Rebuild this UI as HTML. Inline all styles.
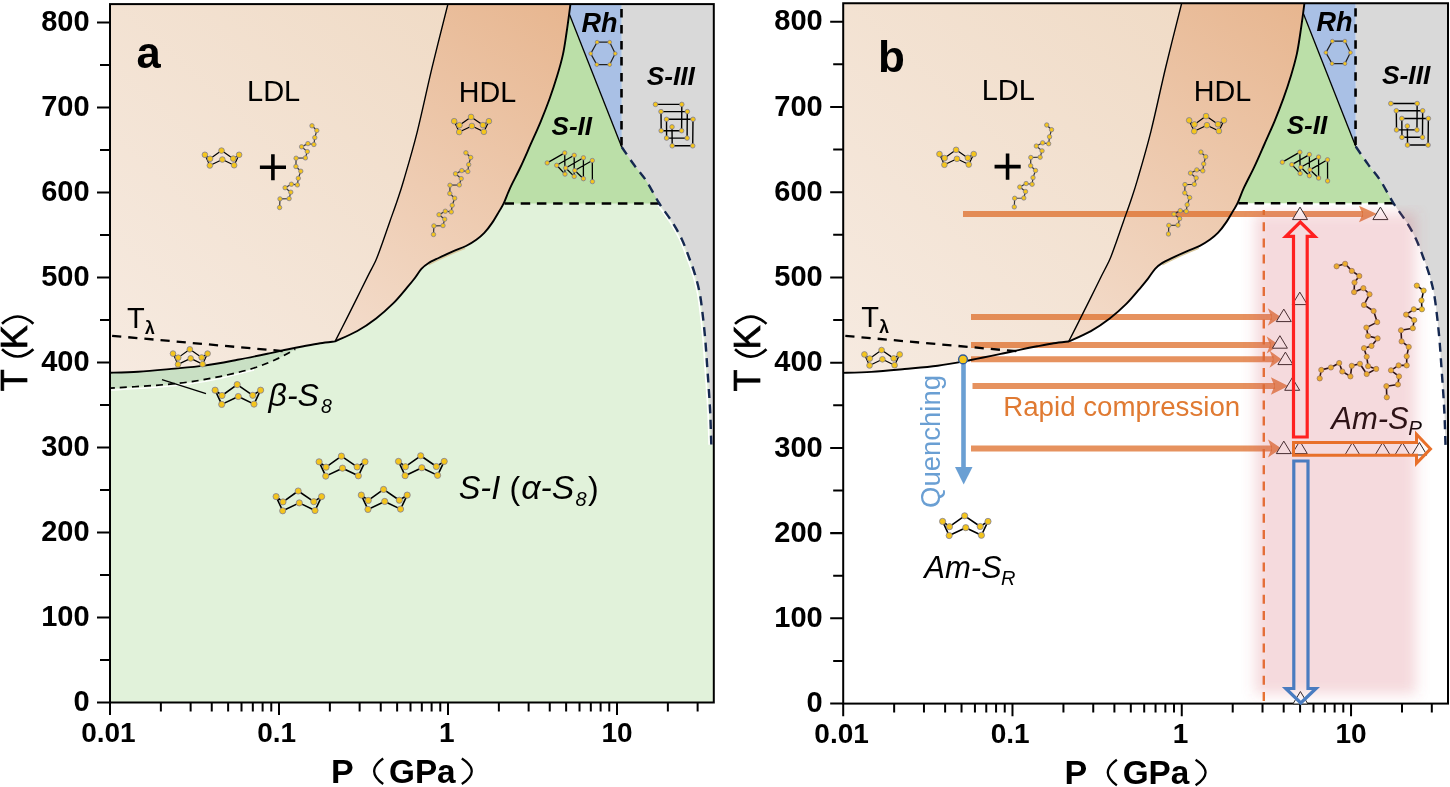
<!DOCTYPE html><html><head><meta charset="utf-8"><style>html,body{margin:0;padding:0;background:#fff;}svg{display:block;will-change:transform;}</style></head><body><svg width="1450" height="787" viewBox="0 0 1450 787" font-family='"Liberation Sans", sans-serif'>
<defs>
<linearGradient id="gLDLa" gradientUnits="userSpaceOnUse" x1="110" y1="370" x2="450" y2="0">
<stop offset="0" stop-color="#f6eae0"/><stop offset="1" stop-color="#f0dbc6"/></linearGradient>
<linearGradient id="gHDLa" gradientUnits="userSpaceOnUse" x1="340" y1="340" x2="580" y2="0">
<stop offset="0" stop-color="#f3dccb"/><stop offset="1" stop-color="#e7b58e"/></linearGradient>
<linearGradient id="gLDLb" gradientUnits="userSpaceOnUse" x1="110" y1="370" x2="450" y2="0">
<stop offset="0" stop-color="#f6eae0"/><stop offset="1" stop-color="#f0dbc6"/></linearGradient>
<linearGradient id="gHDLb" gradientUnits="userSpaceOnUse" x1="340" y1="340" x2="580" y2="0">
<stop offset="0" stop-color="#f3dccb"/><stop offset="1" stop-color="#e7b58e"/></linearGradient>
<clipPath id="plotclip"><rect x="110.0" y="4.1" width="603.8" height="698.4"/></clipPath>
<filter id="blur8" x="-20%" y="-20%" width="140%" height="140%"><feGaussianBlur stdDeviation="7"/></filter>
</defs>
<defs><clipPath id="pinkclip"><rect x="1200" y="205" width="248" height="497"/></clipPath><filter id="blurP" x="-30%" y="-30%" width="160%" height="160%"><feGaussianBlur stdDeviation="6.5"/></filter></defs>
<g id="pa"><g clip-path="url(#plotclip)"><rect x="110.0" y="4.1" width="603.8" height="698.4" fill="#e1f2da"/>
<path d="M621.5,4.1 L713.8,4.1 L713.8,444.7 L711.3,444.7 C711.13,439.68 710.7,423.63 710.3,414.6 C709.9,405.57 709.42,398.53 708.9,390.5 C708.38,382.47 707.77,374.43 707.2,366.4 C706.63,358.37 706.18,350.33 705.5,342.3 C704.82,334.27 704.03,326.23 703.1,318.2 C702.17,310.17 701.23,301.33 699.9,294.1 C698.57,286.87 696.87,280.8 695.1,274.8 C693.33,268.8 691.53,264.07 689.3,258.1 C687.07,252.13 684.57,245.03 681.7,239 C678.83,232.97 675.83,227.82 672.1,221.9 C668.37,215.98 663.58,210.32 659.3,203.5 C655.02,196.68 650.62,187.45 646.4,181 C642.18,174.55 638.12,170.47 634,164.8 C629.88,159.13 623.75,149.97 621.7,147 Z" fill="#d9d9d9"/>
<path d="M570.3,4.1 L621.5,4.1 L621.7,147 L569.5,14.5 Z" fill="#a9c0e5"/>
<path d="M569.5,14.5 L621.7,147 C623.75,149.97 629.88,159.13 634,164.8 C638.12,170.47 642.18,174.55 646.4,181 C650.62,187.45 657.15,199.75 659.3,203.5 L504.5,203.5 L503.8,203.2 C504.87,200.63 507.45,193.75 510.2,187.8 C512.95,181.85 516.92,174.68 520.3,167.5 C523.68,160.32 527.12,152.32 530.5,144.7 C533.88,137.08 537.43,129.42 540.6,121.8 C543.77,114.18 546.75,106.62 549.5,99 C552.25,91.38 554.87,83.5 557.1,76.1 C559.33,68.7 561.33,61.78 562.9,54.6 C564.47,47.42 565.48,39.57 566.5,33 C567.52,26.43 568.32,20.2 569,15.2 C569.68,10.2 570.33,5.03 570.6,3 Z" fill="#bbdfa8"/>
<path d="M108,372.8 C113.02,372.62 127.57,372.35 138.1,371.7 C148.63,371.05 160.17,369.92 171.2,368.9 C182.23,367.88 193.27,367.12 204.3,365.6 C215.33,364.08 226.37,361.88 237.4,359.8 C248.43,357.72 262.22,354.82 270.5,353.1 C278.78,351.38 284.33,350.1 287.1,349.5 L295.3,349.2 C292.55,350.68 285.68,354.97 278.8,358.1 C271.92,361.23 263.65,364.97 254,368 C244.35,371.03 231.93,373.95 220.9,376.3 C209.87,378.65 198.83,380.58 187.8,382.1 C176.77,383.62 168,384.37 154.7,385.4 C141.4,386.43 115.78,387.82 108,388.3 Z" fill="#c9e0c4"/>
<path d="M110,4.1 L447.8,4.1 C445.52,13.73 437.28,45.85 432.1,67.4 C426.92,88.95 421.82,113.53 417.1,132.3 C412.38,151.07 407.13,168.55 403.8,180 C400.47,191.45 399.45,194.02 397.1,201 C394.75,207.98 392.15,214.92 389.7,221.9 C387.25,228.88 384.67,236.6 382.4,242.9 C380.13,249.2 378.55,254.12 376.1,259.7 C373.65,265.28 370.83,270.12 367.7,276.4 C364.57,282.68 360.78,290.4 357.3,297.4 C353.82,304.4 350.5,311.07 346.8,318.4 C343.1,325.73 337.05,337.57 335.1,341.4 C332.62,341.7 325.45,342.4 320.2,343.2 C314.95,344 309.12,345.15 303.6,346.2 C298.08,347.25 292.62,348.35 287.1,349.5 C281.58,350.65 278.78,351.38 270.5,353.1 C262.22,354.82 248.43,357.72 237.4,359.8 C226.37,361.88 215.33,364.08 204.3,365.6 C193.27,367.12 182.23,367.88 171.2,368.9 C160.17,369.92 148.63,371.05 138.1,371.7 C127.57,372.35 113.02,372.62 108,372.8 Z" fill="url(#gLDLa)"/>
<path d="M447.8,4.1 L570.3,4.1 C570.33,5.03 569.68,10.2 569,15.2 C568.32,20.2 567.52,26.43 566.5,33 C565.48,39.57 564.47,47.42 562.9,54.6 C561.33,61.78 559.33,68.7 557.1,76.1 C554.87,83.5 552.25,91.38 549.5,99 C546.75,106.62 543.77,114.18 540.6,121.8 C537.43,129.42 533.88,137.08 530.5,144.7 C527.12,152.32 523.68,160.32 520.3,167.5 C516.92,174.68 512.95,181.85 510.2,187.8 C507.45,193.75 505.63,199.3 503.8,203.2 C501.97,207.1 501.12,207.97 499.2,211.2 C497.28,214.43 494.78,218.98 492.3,222.6 C489.82,226.22 486.97,230.05 484.3,232.9 C481.63,235.75 479.35,237.52 476.3,239.7 C473.25,241.88 469.8,244.08 466,246 C462.2,247.92 458.07,249.2 453.5,251.2 C448.93,253.2 442.8,256 438.6,258 C434.4,260 431.17,261.38 428.3,263.2 C425.43,265.02 423.7,266.35 421.4,268.9 C419.1,271.45 416.8,275.5 414.5,278.5 C412.2,281.5 411.2,282.7 407.6,286.9 C404,291.1 398.15,298.45 392.9,303.7 C387.65,308.95 382.03,313.85 376.1,318.4 C370.17,322.95 364.13,327.17 357.3,331 C350.47,334.83 338.8,339.67 335.1,341.4 C337.05,337.57 343.1,325.73 346.8,318.4 C350.5,311.07 353.82,304.4 357.3,297.4 C360.78,290.4 364.57,282.68 367.7,276.4 C370.83,270.12 373.65,265.28 376.1,259.7 C378.55,254.12 380.13,249.2 382.4,242.9 C384.67,236.6 387.25,228.88 389.7,221.9 C392.15,214.92 394.75,207.98 397.1,201 C399.45,194.02 400.47,191.45 403.8,180 C407.13,168.55 412.38,151.07 417.1,132.3 C421.82,113.53 426.92,88.95 432.1,67.4 C437.28,45.85 445.52,13.73 448.2,3 Z" fill="url(#gHDLa)"/><path d="M659.3,203.5 C661.43,206.57 668.37,215.98 672.1,221.9 C675.83,227.82 678.83,232.97 681.7,239 C684.57,245.03 687.07,252.13 689.3,258.1 C691.53,264.07 693.33,268.8 695.1,274.8 C696.87,280.8 698.57,286.87 699.9,294.1 C701.23,301.33 702.17,310.17 703.1,318.2 C704.03,326.23 704.82,334.27 705.5,342.3 C706.18,350.33 706.63,358.37 707.2,366.4 C707.77,374.43 708.38,382.47 708.9,390.5 C709.42,398.53 709.9,405.57 710.3,414.6 C710.7,423.63 711.13,439.68 711.3,444.7" fill="none" stroke="#fff" stroke-width="1.6" transform="translate(-2.2,0)"/>
<path d="M428.3,263.2 C430.02,262.33 434.4,260 438.6,258 C442.8,256 449.12,253.1 453.5,251.2 C457.88,249.3 463,247.37 464.9,246.6" fill="none" stroke="#d8c79c" stroke-width="1.6" transform="translate(0.3,1.6)"/>
<path d="M108,372.8 C113.02,372.62 127.57,372.35 138.1,371.7 C148.63,371.05 160.17,369.92 171.2,368.9 C182.23,367.88 193.27,367.12 204.3,365.6 C215.33,364.08 226.37,361.88 237.4,359.8 C248.43,357.72 262.22,354.82 270.5,353.1 C278.78,351.38 281.58,350.65 287.1,349.5 C292.62,348.35 298.08,347.25 303.6,346.2 C309.12,345.15 314.95,344 320.2,343.2 C325.45,342.4 332.62,341.7 335.1,341.4 C338.8,339.67 350.47,334.83 357.3,331 C364.13,327.17 370.17,322.95 376.1,318.4 C382.03,313.85 387.65,308.95 392.9,303.7 C398.15,298.45 404,291.1 407.6,286.9 C411.2,282.7 412.2,281.5 414.5,278.5 C416.8,275.5 419.1,271.45 421.4,268.9 C423.7,266.35 425.43,265.02 428.3,263.2 C431.17,261.38 434.4,260 438.6,258 C442.8,256 448.93,253.2 453.5,251.2 C458.07,249.2 462.2,247.92 466,246 C469.8,244.08 473.25,241.88 476.3,239.7 C479.35,237.52 481.63,235.75 484.3,232.9 C486.97,230.05 489.82,226.22 492.3,222.6 C494.78,218.98 497.28,214.43 499.2,211.2 C501.12,207.97 501.97,207.1 503.8,203.2 C505.63,199.3 507.45,193.75 510.2,187.8 C512.95,181.85 516.92,174.68 520.3,167.5 C523.68,160.32 527.12,152.32 530.5,144.7 C533.88,137.08 537.43,129.42 540.6,121.8 C543.77,114.18 546.75,106.62 549.5,99 C552.25,91.38 554.87,83.5 557.1,76.1 C559.33,68.7 561.33,61.78 562.9,54.6 C564.47,47.42 565.48,39.57 566.5,33 C567.52,26.43 568.32,20.2 569,15.2 C569.68,10.2 570.33,5.03 570.6,3" fill="none" stroke="#000" stroke-width="1.9"/>
<path d="M335.1,341.4 C337.05,337.57 343.1,325.73 346.8,318.4 C350.5,311.07 353.82,304.4 357.3,297.4 C360.78,290.4 364.57,282.68 367.7,276.4 C370.83,270.12 373.65,265.28 376.1,259.7 C378.55,254.12 380.13,249.2 382.4,242.9 C384.67,236.6 387.25,228.88 389.7,221.9 C392.15,214.92 394.75,207.98 397.1,201 C399.45,194.02 400.47,191.45 403.8,180 C407.13,168.55 412.38,151.07 417.1,132.3 C421.82,113.53 426.92,88.95 432.1,67.4 C437.28,45.85 445.52,13.73 448.2,3" fill="none" stroke="#000" stroke-width="1.4"/>
<path d="M569.5,14.5 L621.7,147" stroke="#000" stroke-width="1.3"/>
<path d="M621.5,9 L621.5,146" stroke="#000" stroke-width="2.6" stroke-dasharray="8.4 7.6"/>
<path d="M504.5,203.5 L659.8,203.5" stroke="#000" stroke-width="2.4" stroke-dasharray="9.5 6.7"/>
<path d="M621.7,147 C623.75,149.97 629.88,159.13 634,164.8 C638.12,170.47 642.18,174.55 646.4,181 C650.62,187.45 655.02,196.68 659.3,203.5 C663.58,210.32 668.37,215.98 672.1,221.9 C675.83,227.82 678.83,232.97 681.7,239 C684.57,245.03 687.07,252.13 689.3,258.1 C691.53,264.07 693.33,268.8 695.1,274.8 C696.87,280.8 698.57,286.87 699.9,294.1 C701.23,301.33 702.17,310.17 703.1,318.2 C704.03,326.23 704.82,334.27 705.5,342.3 C706.18,350.33 706.63,358.37 707.2,366.4 C707.77,374.43 708.38,382.47 708.9,390.5 C709.42,398.53 709.9,405.57 710.3,414.6 C710.7,423.63 711.13,439.68 711.3,444.7" fill="none" stroke="#152850" stroke-width="2.4" stroke-dasharray="9 6.5"/>
<path d="M112.1,335.8 L284,351.2" stroke="#000" stroke-width="2.3" stroke-dasharray="9.2 7"/>
<path d="M108,388.3 C115.78,387.82 141.4,386.43 154.7,385.4 C168,384.37 176.77,383.62 187.8,382.1 C198.83,380.58 209.87,378.65 220.9,376.3 C231.93,373.95 248.48,369.38 254,368" fill="none" stroke="#fff" stroke-width="1.3" transform="translate(0,2)"/>
<path d="M108,388.3 C115.78,387.82 141.4,386.43 154.7,385.4 C168,384.37 176.77,383.62 187.8,382.1 C198.83,380.58 209.87,378.65 220.9,376.3 C231.93,373.95 244.35,371.03 254,368 C263.65,364.97 271.92,361.23 278.8,358.1 C285.68,354.97 292.55,350.68 295.3,349.2" fill="none" stroke="#000" stroke-width="1.7" stroke-dasharray="7 5"/>
<path d="M162,379.6 L206,393.6" stroke="#000" stroke-width="1.4"/></g><path d="M204.9,154.8L210.09,158.78M210.09,158.78L221.51,150.59M221.51,150.59L233.24,158.63M233.24,158.63L239.1,154.8M239.1,154.8L234.14,165.25M234.14,165.25L222.34,159.54M222.34,159.54L209.86,165.47M209.86,165.47L204.9,154.8" stroke="#000" stroke-width="1.202637362637363" fill="none" stroke-linecap="round"/><circle cx="204.9" cy="154.8" r="2.83" fill="#f4c51c" stroke="#7a7a98" stroke-width="0.75"/><circle cx="210.09" cy="158.78" r="2.83" fill="#f4c51c" stroke="#7a7a98" stroke-width="0.75"/><circle cx="221.51" cy="150.59" r="2.83" fill="#f4c51c" stroke="#7a7a98" stroke-width="0.75"/><circle cx="233.24" cy="158.63" r="2.83" fill="#f4c51c" stroke="#7a7a98" stroke-width="0.75"/><circle cx="239.1" cy="154.8" r="2.83" fill="#f4c51c" stroke="#7a7a98" stroke-width="0.75"/><circle cx="209.86" cy="165.47" r="2.83" fill="#f4c51c" stroke="#7a7a98" stroke-width="0.75"/><circle cx="222.34" cy="159.54" r="2.83" fill="#f4c51c" stroke="#7a7a98" stroke-width="0.75"/><circle cx="234.14" cy="165.25" r="2.83" fill="#f4c51c" stroke="#7a7a98" stroke-width="0.75"/>
<path d="M312,125.8L316.8,130.5M316.8,130.5L314.8,137.6M314.8,137.6L313.9,144.5M313.9,144.5L307.9,143.6M307.9,143.6L301.6,146.8M301.6,146.8L307.3,151.6M307.3,151.6L305.4,157.9M305.4,157.9L296.1,158.2M296.1,158.2L295.9,166.5M295.9,166.5L300.8,171.2M300.8,171.2L298.3,178.3M298.3,178.3L297.4,184.9M297.4,184.9L291.4,184.2M291.4,184.2L285.1,187.7M285.1,187.7L290.8,192.2M290.8,192.2L289.1,198.6M289.1,198.6L280,198.9M280,198.9L279.6,207.5" stroke="#333" stroke-width="1.2" fill="none" stroke-linecap="round"/><circle cx="312" cy="125.8" r="2.2" fill="#f4c51c" stroke="#7a7a98" stroke-width="0.75"/><circle cx="316.8" cy="130.5" r="2.2" fill="#f4c51c" stroke="#7a7a98" stroke-width="0.75"/><circle cx="314.8" cy="137.6" r="2.2" fill="#f4c51c" stroke="#7a7a98" stroke-width="0.75"/><circle cx="313.9" cy="144.5" r="2.2" fill="#f4c51c" stroke="#7a7a98" stroke-width="0.75"/><circle cx="307.9" cy="143.6" r="2.2" fill="#f4c51c" stroke="#7a7a98" stroke-width="0.75"/><circle cx="301.6" cy="146.8" r="2.2" fill="#f4c51c" stroke="#7a7a98" stroke-width="0.75"/><circle cx="307.3" cy="151.6" r="2.2" fill="#f4c51c" stroke="#7a7a98" stroke-width="0.75"/><circle cx="305.4" cy="157.9" r="2.2" fill="#f4c51c" stroke="#7a7a98" stroke-width="0.75"/><circle cx="296.1" cy="158.2" r="2.2" fill="#f4c51c" stroke="#7a7a98" stroke-width="0.75"/><circle cx="295.9" cy="166.5" r="2.2" fill="#f4c51c" stroke="#7a7a98" stroke-width="0.75"/><circle cx="300.8" cy="171.2" r="2.2" fill="#f4c51c" stroke="#7a7a98" stroke-width="0.75"/><circle cx="298.3" cy="178.3" r="2.2" fill="#f4c51c" stroke="#7a7a98" stroke-width="0.75"/><circle cx="297.4" cy="184.9" r="2.2" fill="#f4c51c" stroke="#7a7a98" stroke-width="0.75"/><circle cx="291.4" cy="184.2" r="2.2" fill="#f4c51c" stroke="#7a7a98" stroke-width="0.75"/><circle cx="285.1" cy="187.7" r="2.2" fill="#f4c51c" stroke="#7a7a98" stroke-width="0.75"/><circle cx="290.8" cy="192.2" r="2.2" fill="#f4c51c" stroke="#7a7a98" stroke-width="0.75"/><circle cx="289.1" cy="198.6" r="2.2" fill="#f4c51c" stroke="#7a7a98" stroke-width="0.75"/><circle cx="280" cy="198.9" r="2.2" fill="#f4c51c" stroke="#7a7a98" stroke-width="0.75"/><circle cx="279.6" cy="207.5" r="2.2" fill="#f4c51c" stroke="#7a7a98" stroke-width="0.75"/>
<path d="M454.2,121.2L459.46,125.24M459.46,125.24L471.05,116.93M471.05,116.93L482.95,125.09M482.95,125.09L488.9,121.2M488.9,121.2L483.87,131.8M483.87,131.8L471.89,126M471.89,126L459.23,132.03M459.23,132.03L454.2,121.2" stroke="#000" stroke-width="1.2202197802197805" fill="none" stroke-linecap="round"/><circle cx="454.2" cy="121.2" r="2.84" fill="#f4c51c" stroke="#7a7a98" stroke-width="0.75"/><circle cx="459.46" cy="125.24" r="2.84" fill="#f4c51c" stroke="#7a7a98" stroke-width="0.75"/><circle cx="471.05" cy="116.93" r="2.84" fill="#f4c51c" stroke="#7a7a98" stroke-width="0.75"/><circle cx="482.95" cy="125.09" r="2.84" fill="#f4c51c" stroke="#7a7a98" stroke-width="0.75"/><circle cx="488.9" cy="121.2" r="2.84" fill="#f4c51c" stroke="#7a7a98" stroke-width="0.75"/><circle cx="459.23" cy="132.03" r="2.84" fill="#f4c51c" stroke="#7a7a98" stroke-width="0.75"/><circle cx="471.89" cy="126" r="2.84" fill="#f4c51c" stroke="#7a7a98" stroke-width="0.75"/><circle cx="483.87" cy="131.8" r="2.84" fill="#f4c51c" stroke="#7a7a98" stroke-width="0.75"/>
<path d="M465.9,152.8L470.7,157.5M470.7,157.5L468.7,164.6M468.7,164.6L467.8,171.5M467.8,171.5L461.8,170.6M461.8,170.6L455.5,173.8M455.5,173.8L461.2,178.6M461.2,178.6L459.3,184.9M459.3,184.9L450,185.2M450,185.2L449.8,193.5M449.8,193.5L454.7,198.2M454.7,198.2L452.2,205.3M452.2,205.3L451.3,211.9M451.3,211.9L445.3,211.2M445.3,211.2L439,214.7M439,214.7L444.7,219.2M444.7,219.2L443,225.6M443,225.6L433.9,225.9M433.9,225.9L433.5,234.5" stroke="#333" stroke-width="1.2" fill="none" stroke-linecap="round"/><circle cx="465.9" cy="152.8" r="2.2" fill="#f4c51c" stroke="#7a7a98" stroke-width="0.75"/><circle cx="470.7" cy="157.5" r="2.2" fill="#f4c51c" stroke="#7a7a98" stroke-width="0.75"/><circle cx="468.7" cy="164.6" r="2.2" fill="#f4c51c" stroke="#7a7a98" stroke-width="0.75"/><circle cx="467.8" cy="171.5" r="2.2" fill="#f4c51c" stroke="#7a7a98" stroke-width="0.75"/><circle cx="461.8" cy="170.6" r="2.2" fill="#f4c51c" stroke="#7a7a98" stroke-width="0.75"/><circle cx="455.5" cy="173.8" r="2.2" fill="#f4c51c" stroke="#7a7a98" stroke-width="0.75"/><circle cx="461.2" cy="178.6" r="2.2" fill="#f4c51c" stroke="#7a7a98" stroke-width="0.75"/><circle cx="459.3" cy="184.9" r="2.2" fill="#f4c51c" stroke="#7a7a98" stroke-width="0.75"/><circle cx="450" cy="185.2" r="2.2" fill="#f4c51c" stroke="#7a7a98" stroke-width="0.75"/><circle cx="449.8" cy="193.5" r="2.2" fill="#f4c51c" stroke="#7a7a98" stroke-width="0.75"/><circle cx="454.7" cy="198.2" r="2.2" fill="#f4c51c" stroke="#7a7a98" stroke-width="0.75"/><circle cx="452.2" cy="205.3" r="2.2" fill="#f4c51c" stroke="#7a7a98" stroke-width="0.75"/><circle cx="451.3" cy="211.9" r="2.2" fill="#f4c51c" stroke="#7a7a98" stroke-width="0.75"/><circle cx="445.3" cy="211.2" r="2.2" fill="#f4c51c" stroke="#7a7a98" stroke-width="0.75"/><circle cx="439" cy="214.7" r="2.2" fill="#f4c51c" stroke="#7a7a98" stroke-width="0.75"/><circle cx="444.7" cy="219.2" r="2.2" fill="#f4c51c" stroke="#7a7a98" stroke-width="0.75"/><circle cx="443" cy="225.6" r="2.2" fill="#f4c51c" stroke="#7a7a98" stroke-width="0.75"/><circle cx="433.9" cy="225.9" r="2.2" fill="#f4c51c" stroke="#7a7a98" stroke-width="0.75"/><circle cx="433.5" cy="234.5" r="2.2" fill="#f4c51c" stroke="#7a7a98" stroke-width="0.75"/>
<path d="M547.2,162.9L564.7,152.9M564.7,152.9L565,174.1M565,174.1L556.7,165.3M556.7,165.3L574.2,155.3M574.2,155.3L574.2,176.4M574.2,176.4L565.7,168M565.7,168L583.4,157.8M583.4,157.8L583.4,178.7M583.4,178.7L574.8,170.5M574.8,170.5L592.3,160.5M592.3,160.5L592.4,181.6" stroke="#000" stroke-width="1.3" fill="none" stroke-linecap="round"/><circle cx="547.2" cy="162.9" r="2.2" fill="#f4c51c" stroke="#7a7a98" stroke-width="0.75"/><circle cx="564.7" cy="152.9" r="2.2" fill="#f4c51c" stroke="#7a7a98" stroke-width="0.75"/><circle cx="574.2" cy="155.3" r="2.2" fill="#f4c51c" stroke="#7a7a98" stroke-width="0.75"/><circle cx="583.4" cy="157.8" r="2.2" fill="#f4c51c" stroke="#7a7a98" stroke-width="0.75"/><circle cx="592.3" cy="160.5" r="2.2" fill="#f4c51c" stroke="#7a7a98" stroke-width="0.75"/><circle cx="556.7" cy="165.3" r="2.2" fill="#f4c51c" stroke="#7a7a98" stroke-width="0.75"/><circle cx="565.7" cy="168" r="2.2" fill="#f4c51c" stroke="#7a7a98" stroke-width="0.75"/><circle cx="574.8" cy="170.5" r="2.2" fill="#f4c51c" stroke="#7a7a98" stroke-width="0.75"/><circle cx="565" cy="174.1" r="2.2" fill="#f4c51c" stroke="#7a7a98" stroke-width="0.75"/><circle cx="574.2" cy="176.4" r="2.2" fill="#f4c51c" stroke="#7a7a98" stroke-width="0.75"/><circle cx="583.4" cy="178.7" r="2.2" fill="#f4c51c" stroke="#7a7a98" stroke-width="0.75"/><circle cx="592.4" cy="181.6" r="2.2" fill="#f4c51c" stroke="#7a7a98" stroke-width="0.75"/>
<path d="M655.5,104.4L681.8,104.4M681.8,104.4L681.6,130.7M661,111.6L687.3,111.6M661,111.6L661.2,130.7M687.3,111.6L687.1,138.1M666.5,119.3L693,119.3M666.5,119.3L666.6,138.1M693,119.3L692.7,145.8M661.2,130.7L681.6,130.7M672,126.9L672.2,145.8M666.6,138.1L687.1,138.1M672.2,145.8L692.7,145.8" stroke="#000" stroke-width="1.4" fill="none" stroke-linecap="round"/><circle cx="655.5" cy="104.4" r="2.3" fill="#f4c51c" stroke="#7a7a98" stroke-width="0.75"/><circle cx="681.8" cy="104.4" r="2.3" fill="#f4c51c" stroke="#7a7a98" stroke-width="0.75"/><circle cx="661" cy="111.6" r="2.3" fill="#f4c51c" stroke="#7a7a98" stroke-width="0.75"/><circle cx="687.3" cy="111.6" r="2.3" fill="#f4c51c" stroke="#7a7a98" stroke-width="0.75"/><circle cx="666.5" cy="119.3" r="2.3" fill="#f4c51c" stroke="#7a7a98" stroke-width="0.75"/><circle cx="693" cy="119.3" r="2.3" fill="#f4c51c" stroke="#7a7a98" stroke-width="0.75"/><circle cx="672" cy="126.9" r="2.3" fill="#f4c51c" stroke="#7a7a98" stroke-width="0.75"/><circle cx="661.2" cy="130.7" r="2.3" fill="#f4c51c" stroke="#7a7a98" stroke-width="0.75"/><circle cx="681.6" cy="130.7" r="2.3" fill="#f4c51c" stroke="#7a7a98" stroke-width="0.75"/><circle cx="666.6" cy="138.1" r="2.3" fill="#f4c51c" stroke="#7a7a98" stroke-width="0.75"/><circle cx="687.1" cy="138.1" r="2.3" fill="#f4c51c" stroke="#7a7a98" stroke-width="0.75"/><circle cx="672.2" cy="145.8" r="2.3" fill="#f4c51c" stroke="#7a7a98" stroke-width="0.75"/><circle cx="692.7" cy="145.8" r="2.3" fill="#f4c51c" stroke="#7a7a98" stroke-width="0.75"/>
<path d="M597.1,42.2L609.7,42.2M609.7,42.2L615.2,53.6M615.2,53.6L609.7,64.6M609.7,64.6L596.8,64.6M596.8,64.6L590.7,53.6M590.7,53.6L597.1,42.2" stroke="#222" stroke-width="1.2" fill="none" stroke-linecap="round"/><circle cx="597.1" cy="42.2" r="1.9" fill="#f4c51c" stroke="#7a7a98" stroke-width="0.75"/><circle cx="609.7" cy="42.2" r="1.9" fill="#f4c51c" stroke="#7a7a98" stroke-width="0.75"/><circle cx="615.2" cy="53.6" r="1.9" fill="#f4c51c" stroke="#7a7a98" stroke-width="0.75"/><circle cx="609.7" cy="64.6" r="1.9" fill="#f4c51c" stroke="#7a7a98" stroke-width="0.75"/><circle cx="596.8" cy="64.6" r="1.9" fill="#f4c51c" stroke="#7a7a98" stroke-width="0.75"/><circle cx="590.7" cy="53.6" r="1.9" fill="#f4c51c" stroke="#7a7a98" stroke-width="0.75"/>
<path d="M173,353.6L178.25,357.63M178.25,357.63L189.81,349.34M189.81,349.34L201.67,357.48M201.67,357.48L207.6,353.6M207.6,353.6L202.58,364.17M202.58,364.17L190.64,358.39M190.64,358.39L178.02,364.4M178.02,364.4L173,353.6" stroke="#000" stroke-width="1.216703296703297" fill="none" stroke-linecap="round"/><circle cx="173" cy="353.6" r="2.84" fill="#f4c51c" stroke="#7a7a98" stroke-width="0.75"/><circle cx="178.25" cy="357.63" r="2.84" fill="#f4c51c" stroke="#7a7a98" stroke-width="0.75"/><circle cx="189.81" cy="349.34" r="2.84" fill="#f4c51c" stroke="#7a7a98" stroke-width="0.75"/><circle cx="201.67" cy="357.48" r="2.84" fill="#f4c51c" stroke="#7a7a98" stroke-width="0.75"/><circle cx="207.6" cy="353.6" r="2.84" fill="#f4c51c" stroke="#7a7a98" stroke-width="0.75"/><circle cx="178.02" cy="364.4" r="2.84" fill="#f4c51c" stroke="#7a7a98" stroke-width="0.75"/><circle cx="190.64" cy="358.39" r="2.84" fill="#f4c51c" stroke="#7a7a98" stroke-width="0.75"/><circle cx="202.58" cy="364.17" r="2.84" fill="#f4c51c" stroke="#7a7a98" stroke-width="0.75"/>
<path d="M215.1,390.2L222,395.5M222,395.5L237.2,384.6M237.2,384.6L252.8,395.3M252.8,395.3L260.6,390.2M260.6,390.2L254,404.1M254,404.1L238.3,396.5M238.3,396.5L221.7,404.4M221.7,404.4L215.1,390.2" stroke="#000" stroke-width="1.6" fill="none" stroke-linecap="round"/><circle cx="215.1" cy="390.2" r="3.1" fill="#f4c51c" stroke="#7a7a98" stroke-width="0.75"/><circle cx="222" cy="395.5" r="3.1" fill="#f4c51c" stroke="#7a7a98" stroke-width="0.75"/><circle cx="237.2" cy="384.6" r="3.1" fill="#f4c51c" stroke="#7a7a98" stroke-width="0.75"/><circle cx="252.8" cy="395.3" r="3.1" fill="#f4c51c" stroke="#7a7a98" stroke-width="0.75"/><circle cx="260.6" cy="390.2" r="3.1" fill="#f4c51c" stroke="#7a7a98" stroke-width="0.75"/><circle cx="221.7" cy="404.4" r="3.1" fill="#f4c51c" stroke="#7a7a98" stroke-width="0.75"/><circle cx="238.3" cy="396.5" r="3.1" fill="#f4c51c" stroke="#7a7a98" stroke-width="0.75"/><circle cx="254" cy="404.1" r="3.1" fill="#f4c51c" stroke="#7a7a98" stroke-width="0.75"/>
<path d="M319.1,461.8L326.06,467.15M326.06,467.15L341.39,456.15M341.39,456.15L357.13,466.94M357.13,466.94L365,461.8M365,461.8L358.34,475.82M358.34,475.82L342.5,468.16M342.5,468.16L325.76,476.12M325.76,476.12L319.1,461.8" stroke="#000" stroke-width="1.614065934065934" fill="none" stroke-linecap="round"/><circle cx="319.1" cy="461.8" r="3.11" fill="#f4c51c" stroke="#7a7a98" stroke-width="0.75"/><circle cx="326.06" cy="467.15" r="3.11" fill="#f4c51c" stroke="#7a7a98" stroke-width="0.75"/><circle cx="341.39" cy="456.15" r="3.11" fill="#f4c51c" stroke="#7a7a98" stroke-width="0.75"/><circle cx="357.13" cy="466.94" r="3.11" fill="#f4c51c" stroke="#7a7a98" stroke-width="0.75"/><circle cx="365" cy="461.8" r="3.11" fill="#f4c51c" stroke="#7a7a98" stroke-width="0.75"/><circle cx="325.76" cy="476.12" r="3.11" fill="#f4c51c" stroke="#7a7a98" stroke-width="0.75"/><circle cx="342.5" cy="468.16" r="3.11" fill="#f4c51c" stroke="#7a7a98" stroke-width="0.75"/><circle cx="358.34" cy="475.82" r="3.11" fill="#f4c51c" stroke="#7a7a98" stroke-width="0.75"/>
<path d="M398.5,461.4L405.43,466.72M405.43,466.72L420.7,455.78M420.7,455.78L436.37,466.52M436.37,466.52L444.2,461.4M444.2,461.4L437.57,475.36M437.57,475.36L421.8,467.73M421.8,467.73L405.13,475.66M405.13,475.66L398.5,461.4" stroke="#000" stroke-width="1.607032967032967" fill="none" stroke-linecap="round"/><circle cx="398.5" cy="461.4" r="3.1" fill="#f4c51c" stroke="#7a7a98" stroke-width="0.75"/><circle cx="405.43" cy="466.72" r="3.1" fill="#f4c51c" stroke="#7a7a98" stroke-width="0.75"/><circle cx="420.7" cy="455.78" r="3.1" fill="#f4c51c" stroke="#7a7a98" stroke-width="0.75"/><circle cx="436.37" cy="466.52" r="3.1" fill="#f4c51c" stroke="#7a7a98" stroke-width="0.75"/><circle cx="444.2" cy="461.4" r="3.1" fill="#f4c51c" stroke="#7a7a98" stroke-width="0.75"/><circle cx="405.13" cy="475.66" r="3.1" fill="#f4c51c" stroke="#7a7a98" stroke-width="0.75"/><circle cx="421.8" cy="467.73" r="3.1" fill="#f4c51c" stroke="#7a7a98" stroke-width="0.75"/><circle cx="437.57" cy="475.36" r="3.1" fill="#f4c51c" stroke="#7a7a98" stroke-width="0.75"/>
<path d="M276.1,496.6L283,501.9M283,501.9L298.2,491M298.2,491L313.8,501.7M313.8,501.7L321.6,496.6M321.6,496.6L315,510.5M315,510.5L299.3,502.9M299.3,502.9L282.7,510.8M282.7,510.8L276.1,496.6" stroke="#000" stroke-width="1.6" fill="none" stroke-linecap="round"/><circle cx="276.1" cy="496.6" r="3.1" fill="#f4c51c" stroke="#7a7a98" stroke-width="0.75"/><circle cx="283" cy="501.9" r="3.1" fill="#f4c51c" stroke="#7a7a98" stroke-width="0.75"/><circle cx="298.2" cy="491" r="3.1" fill="#f4c51c" stroke="#7a7a98" stroke-width="0.75"/><circle cx="313.8" cy="501.7" r="3.1" fill="#f4c51c" stroke="#7a7a98" stroke-width="0.75"/><circle cx="321.6" cy="496.6" r="3.1" fill="#f4c51c" stroke="#7a7a98" stroke-width="0.75"/><circle cx="282.7" cy="510.8" r="3.1" fill="#f4c51c" stroke="#7a7a98" stroke-width="0.75"/><circle cx="299.3" cy="502.9" r="3.1" fill="#f4c51c" stroke="#7a7a98" stroke-width="0.75"/><circle cx="315" cy="510.5" r="3.1" fill="#f4c51c" stroke="#7a7a98" stroke-width="0.75"/>
<path d="M361.3,495.1L368.26,500.45M368.26,500.45L383.59,489.45M383.59,489.45L399.33,500.24M399.33,500.24L407.2,495.1M407.2,495.1L400.54,509.12M400.54,509.12L384.7,501.46M384.7,501.46L367.96,509.42M367.96,509.42L361.3,495.1" stroke="#000" stroke-width="1.614065934065934" fill="none" stroke-linecap="round"/><circle cx="361.3" cy="495.1" r="3.11" fill="#f4c51c" stroke="#7a7a98" stroke-width="0.75"/><circle cx="368.26" cy="500.45" r="3.11" fill="#f4c51c" stroke="#7a7a98" stroke-width="0.75"/><circle cx="383.59" cy="489.45" r="3.11" fill="#f4c51c" stroke="#7a7a98" stroke-width="0.75"/><circle cx="399.33" cy="500.24" r="3.11" fill="#f4c51c" stroke="#7a7a98" stroke-width="0.75"/><circle cx="407.2" cy="495.1" r="3.11" fill="#f4c51c" stroke="#7a7a98" stroke-width="0.75"/><circle cx="367.96" cy="509.42" r="3.11" fill="#f4c51c" stroke="#7a7a98" stroke-width="0.75"/><circle cx="384.7" cy="501.46" r="3.11" fill="#f4c51c" stroke="#7a7a98" stroke-width="0.75"/><circle cx="400.54" cy="509.12" r="3.11" fill="#f4c51c" stroke="#7a7a98" stroke-width="0.75"/><text x="136.5" y="68.3" font-size="43.5" font-weight="bold">a</text>
<text x="247" y="101.1" font-size="29">LDL</text>
<text x="458.8" y="101.7" font-size="28.7">HDL</text>
<text x="581.4" y="31.8" font-size="27" font-weight="bold" font-style="italic">Rh</text>
<text x="551.6" y="135" font-size="26" font-weight="bold" font-style="italic">S-II</text>
<text x="646.7" y="85.1" font-size="26.3" font-weight="bold" font-style="italic">S-III</text>
<path d="M259.9,167.3 H286 M272.9,154.3 V180.3" stroke="#000" stroke-width="3.6"/>
<text x="126.9" y="327.7" font-size="29">T</text>
<text x="144.9" y="333.6" font-size="17.5" font-weight="bold">&#955;</text>
<text x="268.6" y="406.4" font-size="32" font-style="italic">&#946;-S</text>
<text x="321" y="413" font-size="19.5" font-style="italic">8</text>
<text x="458.7" y="498.6" font-size="32.5" font-style="italic">S-I</text>
<text x="509.4" y="498.6" font-size="32">(</text>
<text x="521.2" y="498.6" font-size="33.8" font-style="italic">&#945;-S</text>
<text x="575.5" y="505.8" font-size="20" font-style="italic">8</text>
<text x="588" y="498.6" font-size="32">)</text><rect x="110.0" y="4.1" width="603.8" height="698.4" fill="none" stroke="#000" stroke-width="2"/>
<path d="M97,702.5H110M100,660H110M97,617.5H110M100,575H110M97,532.5H110M100,490H110M97,447.5H110M100,405H110M97,362.5H110M100,320H110M97,277.5H110M100,235H110M97,192.5H110M100,150H110M97,107.5H110M100,65H110M97,22.5H110M110,702.5V715M160.87,702.5V711.5M190.63,702.5V711.5M211.75,702.5V711.5M228.13,702.5V711.5M241.51,702.5V711.5M252.82,702.5V711.5M262.62,702.5V711.5M271.27,702.5V711.5M279,702.5V715M329.87,702.5V711.5M359.63,702.5V711.5M380.75,702.5V711.5M397.13,702.5V711.5M410.51,702.5V711.5M421.82,702.5V711.5M431.62,702.5V711.5M440.27,702.5V711.5M448,702.5V715M498.87,702.5V711.5M528.63,702.5V711.5M549.75,702.5V711.5M566.13,702.5V711.5M579.51,702.5V711.5M590.82,702.5V711.5M600.62,702.5V711.5M609.27,702.5V711.5M617,702.5V715M667.87,702.5V711.5M697.63,702.5V711.5" stroke="#000" stroke-width="2" fill="none"/>
<text x="89.6" y="711.1" font-size="29" font-weight="bold" text-anchor="end">0</text>
<text x="89.6" y="626.1" font-size="29" font-weight="bold" text-anchor="end">100</text>
<text x="89.6" y="541.1" font-size="29" font-weight="bold" text-anchor="end">200</text>
<text x="89.6" y="456.1" font-size="29" font-weight="bold" text-anchor="end">300</text>
<text x="89.6" y="371.1" font-size="29" font-weight="bold" text-anchor="end">400</text>
<text x="89.6" y="286.1" font-size="29" font-weight="bold" text-anchor="end">500</text>
<text x="89.6" y="201.1" font-size="29" font-weight="bold" text-anchor="end">600</text>
<text x="89.6" y="116.1" font-size="29" font-weight="bold" text-anchor="end">700</text>
<text x="89.6" y="31.1" font-size="29" font-weight="bold" text-anchor="end">800</text>
<text x="108.4" y="741.8" font-size="28" font-weight="bold" text-anchor="middle">0.01</text>
<text x="276.7" y="741.8" font-size="28" font-weight="bold" text-anchor="middle">0.1</text>
<text x="446.8" y="741.8" font-size="28" font-weight="bold" text-anchor="middle">1</text>
<text x="617" y="741.8" font-size="28" font-weight="bold" text-anchor="middle">10</text><text x="331" y="783.1" font-size="34" font-weight="bold">P</text>
<text x="389" y="783.1" font-size="33.3" font-weight="bold">GPa</text>
<path d="M383.2,758.5 Q365.1,771.25 383.2,784" fill="none" stroke="#000" stroke-width="2.3"/>
<path d="M461.8,758.5 Q481.7,771.25 461.8,784" fill="none" stroke="#000" stroke-width="2.3"/>
<g transform="translate(27.2,390.2) rotate(-90)"><text x="-1" y="0" font-size="36" stroke="#000" stroke-width="0.7">T</text><text x="40.9" y="0" font-size="36" stroke="#000" stroke-width="0.7">K</text><path d="M41,-25.2 Q26.4,-9.5 41,6.2" fill="none" stroke="#000" stroke-width="2.6"/><path d="M66.4,-25.2 Q81,-9.5 66.4,6.2" fill="none" stroke="#000" stroke-width="2.6"/></g></g>
<g transform="matrix(1.00166,0,0,1.00279,733.02,-0.863)"><g clip-path="url(#plotclip)"><path d="M621.5,4.1 L713.8,4.1 L713.8,444.7 L711.3,444.7 C711.13,439.68 710.7,423.63 710.3,414.6 C709.9,405.57 709.42,398.53 708.9,390.5 C708.38,382.47 707.77,374.43 707.2,366.4 C706.63,358.37 706.18,350.33 705.5,342.3 C704.82,334.27 704.03,326.23 703.1,318.2 C702.17,310.17 701.23,301.33 699.9,294.1 C698.57,286.87 696.87,280.8 695.1,274.8 C693.33,268.8 691.53,264.07 689.3,258.1 C687.07,252.13 684.57,245.03 681.7,239 C678.83,232.97 675.83,227.82 672.1,221.9 C668.37,215.98 663.58,210.32 659.3,203.5 C655.02,196.68 650.62,187.45 646.4,181 C642.18,174.55 638.12,170.47 634,164.8 C629.88,159.13 623.75,149.97 621.7,147 Z" fill="#d9d9d9"/>
<path d="M570.3,4.1 L621.5,4.1 L621.7,147 L569.5,14.5 Z" fill="#a9c0e5"/>
<path d="M569.5,14.5 L621.7,147 C623.75,149.97 629.88,159.13 634,164.8 C638.12,170.47 642.18,174.55 646.4,181 C650.62,187.45 657.15,199.75 659.3,203.5 L504.5,203.5 L503.8,203.2 C504.87,200.63 507.45,193.75 510.2,187.8 C512.95,181.85 516.92,174.68 520.3,167.5 C523.68,160.32 527.12,152.32 530.5,144.7 C533.88,137.08 537.43,129.42 540.6,121.8 C543.77,114.18 546.75,106.62 549.5,99 C552.25,91.38 554.87,83.5 557.1,76.1 C559.33,68.7 561.33,61.78 562.9,54.6 C564.47,47.42 565.48,39.57 566.5,33 C567.52,26.43 568.32,20.2 569,15.2 C569.68,10.2 570.33,5.03 570.6,3 Z" fill="#bbdfa8"/>
<path d="M110,4.1 L447.8,4.1 C445.52,13.73 437.28,45.85 432.1,67.4 C426.92,88.95 421.82,113.53 417.1,132.3 C412.38,151.07 407.13,168.55 403.8,180 C400.47,191.45 399.45,194.02 397.1,201 C394.75,207.98 392.15,214.92 389.7,221.9 C387.25,228.88 384.67,236.6 382.4,242.9 C380.13,249.2 378.55,254.12 376.1,259.7 C373.65,265.28 370.83,270.12 367.7,276.4 C364.57,282.68 360.78,290.4 357.3,297.4 C353.82,304.4 350.5,311.07 346.8,318.4 C343.1,325.73 337.05,337.57 335.1,341.4 C332.62,341.7 325.45,342.4 320.2,343.2 C314.95,344 309.12,345.15 303.6,346.2 C298.08,347.25 292.62,348.35 287.1,349.5 C281.58,350.65 278.78,351.38 270.5,353.1 C262.22,354.82 248.43,357.72 237.4,359.8 C226.37,361.88 215.33,364.08 204.3,365.6 C193.27,367.12 182.23,367.88 171.2,368.9 C160.17,369.92 148.63,371.05 138.1,371.7 C127.57,372.35 113.02,372.62 108,372.8 Z" fill="url(#gLDLb)"/>
<path d="M447.8,4.1 L570.3,4.1 C570.33,5.03 569.68,10.2 569,15.2 C568.32,20.2 567.52,26.43 566.5,33 C565.48,39.57 564.47,47.42 562.9,54.6 C561.33,61.78 559.33,68.7 557.1,76.1 C554.87,83.5 552.25,91.38 549.5,99 C546.75,106.62 543.77,114.18 540.6,121.8 C537.43,129.42 533.88,137.08 530.5,144.7 C527.12,152.32 523.68,160.32 520.3,167.5 C516.92,174.68 512.95,181.85 510.2,187.8 C507.45,193.75 505.63,199.3 503.8,203.2 C501.97,207.1 501.12,207.97 499.2,211.2 C497.28,214.43 494.78,218.98 492.3,222.6 C489.82,226.22 486.97,230.05 484.3,232.9 C481.63,235.75 479.35,237.52 476.3,239.7 C473.25,241.88 469.8,244.08 466,246 C462.2,247.92 458.07,249.2 453.5,251.2 C448.93,253.2 442.8,256 438.6,258 C434.4,260 431.17,261.38 428.3,263.2 C425.43,265.02 423.7,266.35 421.4,268.9 C419.1,271.45 416.8,275.5 414.5,278.5 C412.2,281.5 411.2,282.7 407.6,286.9 C404,291.1 398.15,298.45 392.9,303.7 C387.65,308.95 382.03,313.85 376.1,318.4 C370.17,322.95 364.13,327.17 357.3,331 C350.47,334.83 338.8,339.67 335.1,341.4 C337.05,337.57 343.1,325.73 346.8,318.4 C350.5,311.07 353.82,304.4 357.3,297.4 C360.78,290.4 364.57,282.68 367.7,276.4 C370.83,270.12 373.65,265.28 376.1,259.7 C378.55,254.12 380.13,249.2 382.4,242.9 C384.67,236.6 387.25,228.88 389.7,221.9 C392.15,214.92 394.75,207.98 397.1,201 C399.45,194.02 400.47,191.45 403.8,180 C407.13,168.55 412.38,151.07 417.1,132.3 C421.82,113.53 426.92,88.95 432.1,67.4 C437.28,45.85 445.52,13.73 448.2,3 Z" fill="url(#gHDLb)"/></g></g>
<path d="M1263.8,210 V702" stroke="#e8742e" stroke-width="2.4" stroke-dasharray="9 7.2" stroke-dashoffset="4"/>
<path d="M963,214 H1363" stroke="#dd6e2a" stroke-opacity="0.75" stroke-width="6"/><path d="M1359,205.8 L1377,214 L1359,222.2 L1362.5,214 Z" fill="#dd6e2a" fill-opacity="0.78"/>
<path d="M971,317 H1271.8" stroke="#dd6e2a" stroke-opacity="0.75" stroke-width="6"/><path d="M1267.8,308.3 L1280.8,317 L1267.8,325.7 L1271.3,317 Z" fill="#dd6e2a" fill-opacity="0.78"/>
<path d="M971,345 H1270.7" stroke="#dd6e2a" stroke-opacity="0.75" stroke-width="6"/><path d="M1266.7,336.5 L1279.2,345 L1266.7,353.5 L1270.2,345 Z" fill="#dd6e2a" fill-opacity="0.78"/>
<path d="M971,359.2 H1273.5" stroke="#dd6e2a" stroke-opacity="0.75" stroke-width="6"/><path d="M1269.5,350.6 L1281.5,359.2 L1269.5,367.8 L1273,359.2 Z" fill="#dd6e2a" fill-opacity="0.78"/>
<path d="M972.5,386 H1274.9" stroke="#dd6e2a" stroke-opacity="0.75" stroke-width="6"/><path d="M1270.9,377.2 L1288.4,386 L1270.9,394.8 L1274.4,386 Z" fill="#dd6e2a" fill-opacity="0.78"/>
<path d="M971,448.4 H1272" stroke="#dd6e2a" stroke-opacity="0.75" stroke-width="6"/><path d="M1268,439.4 L1281.5,448.4 L1268,457.4 L1271.5,448.4 Z" fill="#dd6e2a" fill-opacity="0.78"/>
<g transform="matrix(1.00166,0,0,1.00279,733.02,-0.863)"><g clip-path="url(#plotclip)"><path d="M428.3,263.2 C430.02,262.33 434.4,260 438.6,258 C442.8,256 449.12,253.1 453.5,251.2 C457.88,249.3 463,247.37 464.9,246.6" fill="none" stroke="#d8c79c" stroke-width="1.6" transform="translate(0.3,1.6)"/>
<path d="M108,372.8 C113.02,372.62 127.57,372.35 138.1,371.7 C148.63,371.05 160.17,369.92 171.2,368.9 C182.23,367.88 193.27,367.12 204.3,365.6 C215.33,364.08 226.37,361.88 237.4,359.8 C248.43,357.72 262.22,354.82 270.5,353.1 C278.78,351.38 281.58,350.65 287.1,349.5 C292.62,348.35 298.08,347.25 303.6,346.2 C309.12,345.15 314.95,344 320.2,343.2 C325.45,342.4 332.62,341.7 335.1,341.4 C338.8,339.67 350.47,334.83 357.3,331 C364.13,327.17 370.17,322.95 376.1,318.4 C382.03,313.85 387.65,308.95 392.9,303.7 C398.15,298.45 404,291.1 407.6,286.9 C411.2,282.7 412.2,281.5 414.5,278.5 C416.8,275.5 419.1,271.45 421.4,268.9 C423.7,266.35 425.43,265.02 428.3,263.2 C431.17,261.38 434.4,260 438.6,258 C442.8,256 448.93,253.2 453.5,251.2 C458.07,249.2 462.2,247.92 466,246 C469.8,244.08 473.25,241.88 476.3,239.7 C479.35,237.52 481.63,235.75 484.3,232.9 C486.97,230.05 489.82,226.22 492.3,222.6 C494.78,218.98 497.28,214.43 499.2,211.2 C501.12,207.97 501.97,207.1 503.8,203.2 C505.63,199.3 507.45,193.75 510.2,187.8 C512.95,181.85 516.92,174.68 520.3,167.5 C523.68,160.32 527.12,152.32 530.5,144.7 C533.88,137.08 537.43,129.42 540.6,121.8 C543.77,114.18 546.75,106.62 549.5,99 C552.25,91.38 554.87,83.5 557.1,76.1 C559.33,68.7 561.33,61.78 562.9,54.6 C564.47,47.42 565.48,39.57 566.5,33 C567.52,26.43 568.32,20.2 569,15.2 C569.68,10.2 570.33,5.03 570.6,3" fill="none" stroke="#000" stroke-width="1.9"/>
<path d="M335.1,341.4 C337.05,337.57 343.1,325.73 346.8,318.4 C350.5,311.07 353.82,304.4 357.3,297.4 C360.78,290.4 364.57,282.68 367.7,276.4 C370.83,270.12 373.65,265.28 376.1,259.7 C378.55,254.12 380.13,249.2 382.4,242.9 C384.67,236.6 387.25,228.88 389.7,221.9 C392.15,214.92 394.75,207.98 397.1,201 C399.45,194.02 400.47,191.45 403.8,180 C407.13,168.55 412.38,151.07 417.1,132.3 C421.82,113.53 426.92,88.95 432.1,67.4 C437.28,45.85 445.52,13.73 448.2,3" fill="none" stroke="#000" stroke-width="1.4"/>
<path d="M569.5,14.5 L621.7,147" stroke="#000" stroke-width="1.3"/>
<path d="M621.5,9 L621.5,146" stroke="#000" stroke-width="2.6" stroke-dasharray="8.4 7.6"/>
<path d="M504.5,203.5 L659.8,203.5" stroke="#000" stroke-width="2.4" stroke-dasharray="9.5 6.7"/>
<path d="M621.7,147 C623.75,149.97 629.88,159.13 634,164.8 C638.12,170.47 642.18,174.55 646.4,181 C650.62,187.45 655.02,196.68 659.3,203.5 C663.58,210.32 668.37,215.98 672.1,221.9 C675.83,227.82 678.83,232.97 681.7,239 C684.57,245.03 687.07,252.13 689.3,258.1 C691.53,264.07 693.33,268.8 695.1,274.8 C696.87,280.8 698.57,286.87 699.9,294.1 C701.23,301.33 702.17,310.17 703.1,318.2 C704.03,326.23 704.82,334.27 705.5,342.3 C706.18,350.33 706.63,358.37 707.2,366.4 C707.77,374.43 708.38,382.47 708.9,390.5 C709.42,398.53 709.9,405.57 710.3,414.6 C710.7,423.63 711.13,439.68 711.3,444.7" fill="none" stroke="#152850" stroke-width="2.4" stroke-dasharray="9 6.5"/>
<path d="M112.1,335.8 L284,351.2" stroke="#000" stroke-width="2.3" stroke-dasharray="9.2 7"/></g><g transform="translate(1.2,-0.3)"><path d="M204.9,154.8L210.09,158.78M210.09,158.78L221.51,150.59M221.51,150.59L233.24,158.63M233.24,158.63L239.1,154.8M239.1,154.8L234.14,165.25M234.14,165.25L222.34,159.54M222.34,159.54L209.86,165.47M209.86,165.47L204.9,154.8" stroke="#000" stroke-width="1.202637362637363" fill="none" stroke-linecap="round"/><circle cx="204.9" cy="154.8" r="2.83" fill="#f4c51c" stroke="#7a7a98" stroke-width="0.75"/><circle cx="210.09" cy="158.78" r="2.83" fill="#f4c51c" stroke="#7a7a98" stroke-width="0.75"/><circle cx="221.51" cy="150.59" r="2.83" fill="#f4c51c" stroke="#7a7a98" stroke-width="0.75"/><circle cx="233.24" cy="158.63" r="2.83" fill="#f4c51c" stroke="#7a7a98" stroke-width="0.75"/><circle cx="239.1" cy="154.8" r="2.83" fill="#f4c51c" stroke="#7a7a98" stroke-width="0.75"/><circle cx="209.86" cy="165.47" r="2.83" fill="#f4c51c" stroke="#7a7a98" stroke-width="0.75"/><circle cx="222.34" cy="159.54" r="2.83" fill="#f4c51c" stroke="#7a7a98" stroke-width="0.75"/><circle cx="234.14" cy="165.25" r="2.83" fill="#f4c51c" stroke="#7a7a98" stroke-width="0.75"/>
<path d="M312,125.8L316.8,130.5M316.8,130.5L314.8,137.6M314.8,137.6L313.9,144.5M313.9,144.5L307.9,143.6M307.9,143.6L301.6,146.8M301.6,146.8L307.3,151.6M307.3,151.6L305.4,157.9M305.4,157.9L296.1,158.2M296.1,158.2L295.9,166.5M295.9,166.5L300.8,171.2M300.8,171.2L298.3,178.3M298.3,178.3L297.4,184.9M297.4,184.9L291.4,184.2M291.4,184.2L285.1,187.7M285.1,187.7L290.8,192.2M290.8,192.2L289.1,198.6M289.1,198.6L280,198.9M280,198.9L279.6,207.5" stroke="#333" stroke-width="1.2" fill="none" stroke-linecap="round"/><circle cx="312" cy="125.8" r="2.2" fill="#f4c51c" stroke="#7a7a98" stroke-width="0.75"/><circle cx="316.8" cy="130.5" r="2.2" fill="#f4c51c" stroke="#7a7a98" stroke-width="0.75"/><circle cx="314.8" cy="137.6" r="2.2" fill="#f4c51c" stroke="#7a7a98" stroke-width="0.75"/><circle cx="313.9" cy="144.5" r="2.2" fill="#f4c51c" stroke="#7a7a98" stroke-width="0.75"/><circle cx="307.9" cy="143.6" r="2.2" fill="#f4c51c" stroke="#7a7a98" stroke-width="0.75"/><circle cx="301.6" cy="146.8" r="2.2" fill="#f4c51c" stroke="#7a7a98" stroke-width="0.75"/><circle cx="307.3" cy="151.6" r="2.2" fill="#f4c51c" stroke="#7a7a98" stroke-width="0.75"/><circle cx="305.4" cy="157.9" r="2.2" fill="#f4c51c" stroke="#7a7a98" stroke-width="0.75"/><circle cx="296.1" cy="158.2" r="2.2" fill="#f4c51c" stroke="#7a7a98" stroke-width="0.75"/><circle cx="295.9" cy="166.5" r="2.2" fill="#f4c51c" stroke="#7a7a98" stroke-width="0.75"/><circle cx="300.8" cy="171.2" r="2.2" fill="#f4c51c" stroke="#7a7a98" stroke-width="0.75"/><circle cx="298.3" cy="178.3" r="2.2" fill="#f4c51c" stroke="#7a7a98" stroke-width="0.75"/><circle cx="297.4" cy="184.9" r="2.2" fill="#f4c51c" stroke="#7a7a98" stroke-width="0.75"/><circle cx="291.4" cy="184.2" r="2.2" fill="#f4c51c" stroke="#7a7a98" stroke-width="0.75"/><circle cx="285.1" cy="187.7" r="2.2" fill="#f4c51c" stroke="#7a7a98" stroke-width="0.75"/><circle cx="290.8" cy="192.2" r="2.2" fill="#f4c51c" stroke="#7a7a98" stroke-width="0.75"/><circle cx="289.1" cy="198.6" r="2.2" fill="#f4c51c" stroke="#7a7a98" stroke-width="0.75"/><circle cx="280" cy="198.9" r="2.2" fill="#f4c51c" stroke="#7a7a98" stroke-width="0.75"/><circle cx="279.6" cy="207.5" r="2.2" fill="#f4c51c" stroke="#7a7a98" stroke-width="0.75"/>
<path d="M454.2,121.2L459.46,125.24M459.46,125.24L471.05,116.93M471.05,116.93L482.95,125.09M482.95,125.09L488.9,121.2M488.9,121.2L483.87,131.8M483.87,131.8L471.89,126M471.89,126L459.23,132.03M459.23,132.03L454.2,121.2" stroke="#000" stroke-width="1.2202197802197805" fill="none" stroke-linecap="round"/><circle cx="454.2" cy="121.2" r="2.84" fill="#f4c51c" stroke="#7a7a98" stroke-width="0.75"/><circle cx="459.46" cy="125.24" r="2.84" fill="#f4c51c" stroke="#7a7a98" stroke-width="0.75"/><circle cx="471.05" cy="116.93" r="2.84" fill="#f4c51c" stroke="#7a7a98" stroke-width="0.75"/><circle cx="482.95" cy="125.09" r="2.84" fill="#f4c51c" stroke="#7a7a98" stroke-width="0.75"/><circle cx="488.9" cy="121.2" r="2.84" fill="#f4c51c" stroke="#7a7a98" stroke-width="0.75"/><circle cx="459.23" cy="132.03" r="2.84" fill="#f4c51c" stroke="#7a7a98" stroke-width="0.75"/><circle cx="471.89" cy="126" r="2.84" fill="#f4c51c" stroke="#7a7a98" stroke-width="0.75"/><circle cx="483.87" cy="131.8" r="2.84" fill="#f4c51c" stroke="#7a7a98" stroke-width="0.75"/>
<path d="M465.9,152.8L470.7,157.5M470.7,157.5L468.7,164.6M468.7,164.6L467.8,171.5M467.8,171.5L461.8,170.6M461.8,170.6L455.5,173.8M455.5,173.8L461.2,178.6M461.2,178.6L459.3,184.9M459.3,184.9L450,185.2M450,185.2L449.8,193.5M449.8,193.5L454.7,198.2M454.7,198.2L452.2,205.3M452.2,205.3L451.3,211.9M451.3,211.9L445.3,211.2M445.3,211.2L439,214.7M439,214.7L444.7,219.2M444.7,219.2L443,225.6M443,225.6L433.9,225.9M433.9,225.9L433.5,234.5" stroke="#333" stroke-width="1.2" fill="none" stroke-linecap="round"/><circle cx="465.9" cy="152.8" r="2.2" fill="#f4c51c" stroke="#7a7a98" stroke-width="0.75"/><circle cx="470.7" cy="157.5" r="2.2" fill="#f4c51c" stroke="#7a7a98" stroke-width="0.75"/><circle cx="468.7" cy="164.6" r="2.2" fill="#f4c51c" stroke="#7a7a98" stroke-width="0.75"/><circle cx="467.8" cy="171.5" r="2.2" fill="#f4c51c" stroke="#7a7a98" stroke-width="0.75"/><circle cx="461.8" cy="170.6" r="2.2" fill="#f4c51c" stroke="#7a7a98" stroke-width="0.75"/><circle cx="455.5" cy="173.8" r="2.2" fill="#f4c51c" stroke="#7a7a98" stroke-width="0.75"/><circle cx="461.2" cy="178.6" r="2.2" fill="#f4c51c" stroke="#7a7a98" stroke-width="0.75"/><circle cx="459.3" cy="184.9" r="2.2" fill="#f4c51c" stroke="#7a7a98" stroke-width="0.75"/><circle cx="450" cy="185.2" r="2.2" fill="#f4c51c" stroke="#7a7a98" stroke-width="0.75"/><circle cx="449.8" cy="193.5" r="2.2" fill="#f4c51c" stroke="#7a7a98" stroke-width="0.75"/><circle cx="454.7" cy="198.2" r="2.2" fill="#f4c51c" stroke="#7a7a98" stroke-width="0.75"/><circle cx="452.2" cy="205.3" r="2.2" fill="#f4c51c" stroke="#7a7a98" stroke-width="0.75"/><circle cx="451.3" cy="211.9" r="2.2" fill="#f4c51c" stroke="#7a7a98" stroke-width="0.75"/><circle cx="445.3" cy="211.2" r="2.2" fill="#f4c51c" stroke="#7a7a98" stroke-width="0.75"/><circle cx="439" cy="214.7" r="2.2" fill="#f4c51c" stroke="#7a7a98" stroke-width="0.75"/><circle cx="444.7" cy="219.2" r="2.2" fill="#f4c51c" stroke="#7a7a98" stroke-width="0.75"/><circle cx="443" cy="225.6" r="2.2" fill="#f4c51c" stroke="#7a7a98" stroke-width="0.75"/><circle cx="433.9" cy="225.9" r="2.2" fill="#f4c51c" stroke="#7a7a98" stroke-width="0.75"/><circle cx="433.5" cy="234.5" r="2.2" fill="#f4c51c" stroke="#7a7a98" stroke-width="0.75"/>
<path d="M547.2,162.9L564.7,152.9M564.7,152.9L565,174.1M565,174.1L556.7,165.3M556.7,165.3L574.2,155.3M574.2,155.3L574.2,176.4M574.2,176.4L565.7,168M565.7,168L583.4,157.8M583.4,157.8L583.4,178.7M583.4,178.7L574.8,170.5M574.8,170.5L592.3,160.5M592.3,160.5L592.4,181.6" stroke="#000" stroke-width="1.3" fill="none" stroke-linecap="round"/><circle cx="547.2" cy="162.9" r="2.2" fill="#f4c51c" stroke="#7a7a98" stroke-width="0.75"/><circle cx="564.7" cy="152.9" r="2.2" fill="#f4c51c" stroke="#7a7a98" stroke-width="0.75"/><circle cx="574.2" cy="155.3" r="2.2" fill="#f4c51c" stroke="#7a7a98" stroke-width="0.75"/><circle cx="583.4" cy="157.8" r="2.2" fill="#f4c51c" stroke="#7a7a98" stroke-width="0.75"/><circle cx="592.3" cy="160.5" r="2.2" fill="#f4c51c" stroke="#7a7a98" stroke-width="0.75"/><circle cx="556.7" cy="165.3" r="2.2" fill="#f4c51c" stroke="#7a7a98" stroke-width="0.75"/><circle cx="565.7" cy="168" r="2.2" fill="#f4c51c" stroke="#7a7a98" stroke-width="0.75"/><circle cx="574.8" cy="170.5" r="2.2" fill="#f4c51c" stroke="#7a7a98" stroke-width="0.75"/><circle cx="565" cy="174.1" r="2.2" fill="#f4c51c" stroke="#7a7a98" stroke-width="0.75"/><circle cx="574.2" cy="176.4" r="2.2" fill="#f4c51c" stroke="#7a7a98" stroke-width="0.75"/><circle cx="583.4" cy="178.7" r="2.2" fill="#f4c51c" stroke="#7a7a98" stroke-width="0.75"/><circle cx="592.4" cy="181.6" r="2.2" fill="#f4c51c" stroke="#7a7a98" stroke-width="0.75"/>
<path d="M655.5,104.4L681.8,104.4M681.8,104.4L681.6,130.7M661,111.6L687.3,111.6M661,111.6L661.2,130.7M687.3,111.6L687.1,138.1M666.5,119.3L693,119.3M666.5,119.3L666.6,138.1M693,119.3L692.7,145.8M661.2,130.7L681.6,130.7M672,126.9L672.2,145.8M666.6,138.1L687.1,138.1M672.2,145.8L692.7,145.8" stroke="#000" stroke-width="1.4" fill="none" stroke-linecap="round"/><circle cx="655.5" cy="104.4" r="2.3" fill="#f4c51c" stroke="#7a7a98" stroke-width="0.75"/><circle cx="681.8" cy="104.4" r="2.3" fill="#f4c51c" stroke="#7a7a98" stroke-width="0.75"/><circle cx="661" cy="111.6" r="2.3" fill="#f4c51c" stroke="#7a7a98" stroke-width="0.75"/><circle cx="687.3" cy="111.6" r="2.3" fill="#f4c51c" stroke="#7a7a98" stroke-width="0.75"/><circle cx="666.5" cy="119.3" r="2.3" fill="#f4c51c" stroke="#7a7a98" stroke-width="0.75"/><circle cx="693" cy="119.3" r="2.3" fill="#f4c51c" stroke="#7a7a98" stroke-width="0.75"/><circle cx="672" cy="126.9" r="2.3" fill="#f4c51c" stroke="#7a7a98" stroke-width="0.75"/><circle cx="661.2" cy="130.7" r="2.3" fill="#f4c51c" stroke="#7a7a98" stroke-width="0.75"/><circle cx="681.6" cy="130.7" r="2.3" fill="#f4c51c" stroke="#7a7a98" stroke-width="0.75"/><circle cx="666.6" cy="138.1" r="2.3" fill="#f4c51c" stroke="#7a7a98" stroke-width="0.75"/><circle cx="687.1" cy="138.1" r="2.3" fill="#f4c51c" stroke="#7a7a98" stroke-width="0.75"/><circle cx="672.2" cy="145.8" r="2.3" fill="#f4c51c" stroke="#7a7a98" stroke-width="0.75"/><circle cx="692.7" cy="145.8" r="2.3" fill="#f4c51c" stroke="#7a7a98" stroke-width="0.75"/>
<path d="M597.1,42.2L609.7,42.2M609.7,42.2L615.2,53.6M615.2,53.6L609.7,64.6M609.7,64.6L596.8,64.6M596.8,64.6L590.7,53.6M590.7,53.6L597.1,42.2" stroke="#222" stroke-width="1.2" fill="none" stroke-linecap="round"/><circle cx="597.1" cy="42.2" r="1.9" fill="#f4c51c" stroke="#7a7a98" stroke-width="0.75"/><circle cx="609.7" cy="42.2" r="1.9" fill="#f4c51c" stroke="#7a7a98" stroke-width="0.75"/><circle cx="615.2" cy="53.6" r="1.9" fill="#f4c51c" stroke="#7a7a98" stroke-width="0.75"/><circle cx="609.7" cy="64.6" r="1.9" fill="#f4c51c" stroke="#7a7a98" stroke-width="0.75"/><circle cx="596.8" cy="64.6" r="1.9" fill="#f4c51c" stroke="#7a7a98" stroke-width="0.75"/><circle cx="590.7" cy="53.6" r="1.9" fill="#f4c51c" stroke="#7a7a98" stroke-width="0.75"/>
<path d="M130,354.6L135.34,358.7M135.34,358.7L147.1,350.27M147.1,350.27L159.17,358.55M159.17,358.55L165.2,354.6M165.2,354.6L160.09,365.35M160.09,365.35L147.95,359.47M147.95,359.47L135.11,365.59M135.11,365.59L130,354.6" stroke="#000" stroke-width="1.237802197802198" fill="none" stroke-linecap="round"/><circle cx="130" cy="354.6" r="2.85" fill="#f4c51c" stroke="#7a7a98" stroke-width="0.75"/><circle cx="135.34" cy="358.7" r="2.85" fill="#f4c51c" stroke="#7a7a98" stroke-width="0.75"/><circle cx="147.1" cy="350.27" r="2.85" fill="#f4c51c" stroke="#7a7a98" stroke-width="0.75"/><circle cx="159.17" cy="358.55" r="2.85" fill="#f4c51c" stroke="#7a7a98" stroke-width="0.75"/><circle cx="165.2" cy="354.6" r="2.85" fill="#f4c51c" stroke="#7a7a98" stroke-width="0.75"/><circle cx="135.11" cy="365.59" r="2.85" fill="#f4c51c" stroke="#7a7a98" stroke-width="0.75"/><circle cx="147.95" cy="359.47" r="2.85" fill="#f4c51c" stroke="#7a7a98" stroke-width="0.75"/><circle cx="160.09" cy="365.35" r="2.85" fill="#f4c51c" stroke="#7a7a98" stroke-width="0.75"/><text x="247" y="101.1" font-size="29">LDL</text>
<text x="458.8" y="101.7" font-size="28.7">HDL</text>
<text x="581.4" y="31.8" font-size="27" font-weight="bold" font-style="italic">Rh</text>
<text x="551.6" y="135" font-size="26" font-weight="bold" font-style="italic">S-II</text>
<text x="646.7" y="85.1" font-size="26.3" font-weight="bold" font-style="italic">S-III</text>
<path d="M259.9,167.3 H286 M272.9,154.3 V180.3" stroke="#000" stroke-width="3.6"/>
<text x="126.9" y="327.7" font-size="29">T</text>
<text x="144.9" y="333.6" font-size="17.5" font-weight="bold">&#955;</text></g><rect x="110.0" y="4.1" width="603.8" height="698.4" fill="none" stroke="#000" stroke-width="2"/>
<path d="M97,702.5H110M100,660H110M97,617.5H110M100,575H110M97,532.5H110M100,490H110M97,447.5H110M100,405H110M97,362.5H110M100,320H110M97,277.5H110M100,235H110M97,192.5H110M100,150H110M97,107.5H110M100,65H110M97,22.5H110M110,702.5V715M160.87,702.5V711.5M190.63,702.5V711.5M211.75,702.5V711.5M228.13,702.5V711.5M241.51,702.5V711.5M252.82,702.5V711.5M262.62,702.5V711.5M271.27,702.5V711.5M279,702.5V715M329.87,702.5V711.5M359.63,702.5V711.5M380.75,702.5V711.5M397.13,702.5V711.5M410.51,702.5V711.5M421.82,702.5V711.5M431.62,702.5V711.5M440.27,702.5V711.5M448,702.5V715M498.87,702.5V711.5M528.63,702.5V711.5M549.75,702.5V711.5M566.13,702.5V711.5M579.51,702.5V711.5M590.82,702.5V711.5M600.62,702.5V711.5M609.27,702.5V711.5M617,702.5V715M667.87,702.5V711.5M697.63,702.5V711.5" stroke="#000" stroke-width="2" fill="none"/>
<text x="89.6" y="711.1" font-size="29" font-weight="bold" text-anchor="end">0</text>
<text x="89.6" y="626.1" font-size="29" font-weight="bold" text-anchor="end">100</text>
<text x="89.6" y="541.1" font-size="29" font-weight="bold" text-anchor="end">200</text>
<text x="89.6" y="456.1" font-size="29" font-weight="bold" text-anchor="end">300</text>
<text x="89.6" y="371.1" font-size="29" font-weight="bold" text-anchor="end">400</text>
<text x="89.6" y="286.1" font-size="29" font-weight="bold" text-anchor="end">500</text>
<text x="89.6" y="201.1" font-size="29" font-weight="bold" text-anchor="end">600</text>
<text x="89.6" y="116.1" font-size="29" font-weight="bold" text-anchor="end">700</text>
<text x="89.6" y="31.1" font-size="29" font-weight="bold" text-anchor="end">800</text>
<text x="108.4" y="741.8" font-size="28" font-weight="bold" text-anchor="middle">0.01</text>
<text x="276.7" y="741.8" font-size="28" font-weight="bold" text-anchor="middle">0.1</text>
<text x="446.8" y="741.8" font-size="28" font-weight="bold" text-anchor="middle">1</text>
<text x="617" y="741.8" font-size="28" font-weight="bold" text-anchor="middle">10</text><text x="331" y="783.1" font-size="34" font-weight="bold">P</text>
<text x="389" y="783.1" font-size="33.3" font-weight="bold">GPa</text>
<path d="M383.2,758.5 Q365.1,771.25 383.2,784" fill="none" stroke="#000" stroke-width="2.3"/>
<path d="M461.8,758.5 Q481.7,771.25 461.8,784" fill="none" stroke="#000" stroke-width="2.3"/>
<g transform="translate(27.2,390.2) rotate(-90)"><text x="-1" y="0" font-size="36" stroke="#000" stroke-width="0.7">T</text><text x="40.9" y="0" font-size="36" stroke="#000" stroke-width="0.7">K</text><path d="M41,-25.2 Q26.4,-9.5 41,6.2" fill="none" stroke="#000" stroke-width="2.6"/><path d="M66.4,-25.2 Q81,-9.5 66.4,6.2" fill="none" stroke="#000" stroke-width="2.6"/></g></g>
<path d="M963.5,362 V468" stroke="#6a9fd3" stroke-width="4.6"/>
<path d="M955,467 L972.5,467 L963.7,484.5 Z" fill="#6a9fd3"/>
<circle cx="963" cy="359.4" r="4.4" fill="#f4c51c" stroke="#2f5a9a" stroke-width="1.4"/>
<path d="M1300,207.1 L1307.5,219.6 L1292.5,219.6 Z" fill="#fff" stroke="#222" stroke-width="1.0" stroke-linejoin="miter"/>
<path d="M1380.4,207.1 L1387.9,219.6 L1372.9,219.6 Z" fill="#fff" stroke="#222" stroke-width="1.0" stroke-linejoin="miter"/>
<path d="M1299.8,292.1 L1307.3,304.6 L1292.3,304.6 Z" fill="#fff" stroke="#222" stroke-width="1.0" stroke-linejoin="miter"/>
<path d="M1283.8,309.1 L1291.3,321.6 L1276.3,321.6 Z" fill="#fff" stroke="#222" stroke-width="1.0" stroke-linejoin="miter"/>
<path d="M1279.9,335.7 L1287.4,348.2 L1272.4,348.2 Z" fill="#fff" stroke="#222" stroke-width="1.0" stroke-linejoin="miter"/>
<path d="M1285.4,352.1 L1292.9,364.6 L1277.9,364.6 Z" fill="#fff" stroke="#222" stroke-width="1.0" stroke-linejoin="miter"/>
<path d="M1292.2,377.8 L1299.7,390.3 L1284.7,390.3 Z" fill="#fff" stroke="#222" stroke-width="1.0" stroke-linejoin="miter"/>
<path d="M1283.8,441.1 L1291.3,453.6 L1276.3,453.6 Z" fill="#fff" stroke="#222" stroke-width="1.0" stroke-linejoin="miter"/>
<path d="M1299.8,441.1 L1307.3,453.6 L1292.3,453.6 Z" fill="#fff" stroke="#222" stroke-width="1.0" stroke-linejoin="miter"/>
<path d="M1352.4,442.5 L1359.9,455 L1344.9,455 Z" fill="#fff" stroke="#222" stroke-width="1.0" stroke-linejoin="miter"/>
<path d="M1382.6,442.5 L1390.1,455 L1375.1,455 Z" fill="#fff" stroke="#222" stroke-width="1.0" stroke-linejoin="miter"/>
<path d="M1402.4,442.5 L1409.9,455 L1394.9,455 Z" fill="#fff" stroke="#222" stroke-width="1.0" stroke-linejoin="miter"/>
<path d="M1419.4,442.5 L1426.9,455 L1411.9,455 Z" fill="#fff" stroke="#222" stroke-width="1.0" stroke-linejoin="miter"/>
<path d="M1300.4,691.5 L1307.9,704 L1292.9,704 Z" fill="#fff" stroke="#222" stroke-width="1.0" stroke-linejoin="miter"/>
<path d="M1336.6,266.3L1345.1,263.8M1345.1,263.8L1351.8,270.9M1351.8,270.9L1359.3,276M1359.3,276L1354.5,282.5M1354.5,282.5L1354.1,292.1M1354.1,292.1L1363.4,288.2M1363.4,288.2L1369.5,294.3M1369.5,294.3L1364,304.9M1364,304.9L1373.6,311M1373.6,311L1377.2,322.1M1377.2,322.1L1366.4,327.6M1366.4,327.6L1368.1,336M1368.1,336L1377.6,338.4M1377.6,338.4L1371.5,345.9M1371.5,345.9L1364,348.2M1364,348.2L1366.7,356.7M1366.7,356.7L1368.1,366.2M1368.1,366.2L1376.2,368.9M1376.2,368.9L1366.7,374M1366.7,374L1359.9,363.8M1359.9,363.8L1351.8,365.8M1351.8,365.8L1350.4,376.4M1350.4,376.4L1342.3,371.5M1342.3,371.5L1339.2,363M1339.2,363L1330.9,367.5M1330.9,367.5L1321.3,369.9M1321.3,369.9L1319.7,378.4" stroke="#000" stroke-width="1.6" fill="none" stroke-linecap="round"/><circle cx="1336.6" cy="266.3" r="2.6" fill="#f4c51c" stroke="#8a7a60" stroke-width="0.75"/><circle cx="1345.1" cy="263.8" r="2.6" fill="#f4c51c" stroke="#8a7a60" stroke-width="0.75"/><circle cx="1351.8" cy="270.9" r="2.6" fill="#f4c51c" stroke="#8a7a60" stroke-width="0.75"/><circle cx="1359.3" cy="276" r="2.6" fill="#f4c51c" stroke="#8a7a60" stroke-width="0.75"/><circle cx="1354.5" cy="282.5" r="2.6" fill="#f4c51c" stroke="#8a7a60" stroke-width="0.75"/><circle cx="1354.1" cy="292.1" r="2.6" fill="#f4c51c" stroke="#8a7a60" stroke-width="0.75"/><circle cx="1363.4" cy="288.2" r="2.6" fill="#f4c51c" stroke="#8a7a60" stroke-width="0.75"/><circle cx="1369.5" cy="294.3" r="2.6" fill="#f4c51c" stroke="#8a7a60" stroke-width="0.75"/><circle cx="1364" cy="304.9" r="2.6" fill="#f4c51c" stroke="#8a7a60" stroke-width="0.75"/><circle cx="1373.6" cy="311" r="2.6" fill="#f4c51c" stroke="#8a7a60" stroke-width="0.75"/><circle cx="1377.2" cy="322.1" r="2.6" fill="#f4c51c" stroke="#8a7a60" stroke-width="0.75"/><circle cx="1366.4" cy="327.6" r="2.6" fill="#f4c51c" stroke="#8a7a60" stroke-width="0.75"/><circle cx="1368.1" cy="336" r="2.6" fill="#f4c51c" stroke="#8a7a60" stroke-width="0.75"/><circle cx="1377.6" cy="338.4" r="2.6" fill="#f4c51c" stroke="#8a7a60" stroke-width="0.75"/><circle cx="1371.5" cy="345.9" r="2.6" fill="#f4c51c" stroke="#8a7a60" stroke-width="0.75"/><circle cx="1364" cy="348.2" r="2.6" fill="#f4c51c" stroke="#8a7a60" stroke-width="0.75"/><circle cx="1366.7" cy="356.7" r="2.6" fill="#f4c51c" stroke="#8a7a60" stroke-width="0.75"/><circle cx="1368.1" cy="366.2" r="2.6" fill="#f4c51c" stroke="#8a7a60" stroke-width="0.75"/><circle cx="1376.2" cy="368.9" r="2.6" fill="#f4c51c" stroke="#8a7a60" stroke-width="0.75"/><circle cx="1366.7" cy="374" r="2.6" fill="#f4c51c" stroke="#8a7a60" stroke-width="0.75"/><circle cx="1359.9" cy="363.8" r="2.6" fill="#f4c51c" stroke="#8a7a60" stroke-width="0.75"/><circle cx="1351.8" cy="365.8" r="2.6" fill="#f4c51c" stroke="#8a7a60" stroke-width="0.75"/><circle cx="1350.4" cy="376.4" r="2.6" fill="#f4c51c" stroke="#8a7a60" stroke-width="0.75"/><circle cx="1342.3" cy="371.5" r="2.6" fill="#f4c51c" stroke="#8a7a60" stroke-width="0.75"/><circle cx="1339.2" cy="363" r="2.6" fill="#f4c51c" stroke="#8a7a60" stroke-width="0.75"/><circle cx="1330.9" cy="367.5" r="2.6" fill="#f4c51c" stroke="#8a7a60" stroke-width="0.75"/><circle cx="1321.3" cy="369.9" r="2.6" fill="#f4c51c" stroke="#8a7a60" stroke-width="0.75"/><circle cx="1319.7" cy="378.4" r="2.6" fill="#f4c51c" stroke="#8a7a60" stroke-width="0.75"/>
<path d="M1416.8,285.6L1423.6,290.6M1423.6,290.6L1421.5,300.4M1421.5,300.4L1421.9,309.3M1421.9,309.3L1413.8,309.3M1413.8,309.3L1406.1,314.6M1406.1,314.6L1414.2,320.1M1414.2,320.1L1412.8,328.2M1412.8,328.2L1401,330.3M1401,330.3L1401.6,341.4M1401.6,341.4L1408.7,346.9M1408.7,346.9L1406.7,356.3M1406.7,356.3L1406.7,365.4M1406.7,365.4L1398.6,365.4M1398.6,365.4L1391,370.3M1391,370.3L1399,376.4M1399,376.4L1397.9,384.5M1397.9,384.5L1386.4,386.2M1386.4,386.2L1386.8,397.3" stroke="#000" stroke-width="1.6" fill="none" stroke-linecap="round"/><circle cx="1416.8" cy="285.6" r="2.6" fill="#f4c51c" stroke="#8a7a60" stroke-width="0.75"/><circle cx="1423.6" cy="290.6" r="2.6" fill="#f4c51c" stroke="#8a7a60" stroke-width="0.75"/><circle cx="1421.5" cy="300.4" r="2.6" fill="#f4c51c" stroke="#8a7a60" stroke-width="0.75"/><circle cx="1421.9" cy="309.3" r="2.6" fill="#f4c51c" stroke="#8a7a60" stroke-width="0.75"/><circle cx="1413.8" cy="309.3" r="2.6" fill="#f4c51c" stroke="#8a7a60" stroke-width="0.75"/><circle cx="1406.1" cy="314.6" r="2.6" fill="#f4c51c" stroke="#8a7a60" stroke-width="0.75"/><circle cx="1414.2" cy="320.1" r="2.6" fill="#f4c51c" stroke="#8a7a60" stroke-width="0.75"/><circle cx="1412.8" cy="328.2" r="2.6" fill="#f4c51c" stroke="#8a7a60" stroke-width="0.75"/><circle cx="1401" cy="330.3" r="2.6" fill="#f4c51c" stroke="#8a7a60" stroke-width="0.75"/><circle cx="1401.6" cy="341.4" r="2.6" fill="#f4c51c" stroke="#8a7a60" stroke-width="0.75"/><circle cx="1408.7" cy="346.9" r="2.6" fill="#f4c51c" stroke="#8a7a60" stroke-width="0.75"/><circle cx="1406.7" cy="356.3" r="2.6" fill="#f4c51c" stroke="#8a7a60" stroke-width="0.75"/><circle cx="1406.7" cy="365.4" r="2.6" fill="#f4c51c" stroke="#8a7a60" stroke-width="0.75"/><circle cx="1398.6" cy="365.4" r="2.6" fill="#f4c51c" stroke="#8a7a60" stroke-width="0.75"/><circle cx="1391" cy="370.3" r="2.6" fill="#f4c51c" stroke="#8a7a60" stroke-width="0.75"/><circle cx="1399" cy="376.4" r="2.6" fill="#f4c51c" stroke="#8a7a60" stroke-width="0.75"/><circle cx="1397.9" cy="384.5" r="2.6" fill="#f4c51c" stroke="#8a7a60" stroke-width="0.75"/><circle cx="1386.4" cy="386.2" r="2.6" fill="#f4c51c" stroke="#8a7a60" stroke-width="0.75"/><circle cx="1386.8" cy="397.3" r="2.6" fill="#f4c51c" stroke="#8a7a60" stroke-width="0.75"/>
<path d="M942.6,521.4L949.48,526.69M949.48,526.69L964.65,515.81M964.65,515.81L980.22,526.49M980.22,526.49L988,521.4M988,521.4L981.41,535.27M981.41,535.27L965.75,527.69M965.75,527.69L949.19,535.57M949.19,535.57L942.6,521.4" stroke="#000" stroke-width="1.5964835164835165" fill="none" stroke-linecap="round"/><circle cx="942.6" cy="521.4" r="3.1" fill="#f4c51c" stroke="#7a7a98" stroke-width="0.75"/><circle cx="949.48" cy="526.69" r="3.1" fill="#f4c51c" stroke="#7a7a98" stroke-width="0.75"/><circle cx="964.65" cy="515.81" r="3.1" fill="#f4c51c" stroke="#7a7a98" stroke-width="0.75"/><circle cx="980.22" cy="526.49" r="3.1" fill="#f4c51c" stroke="#7a7a98" stroke-width="0.75"/><circle cx="988" cy="521.4" r="3.1" fill="#f4c51c" stroke="#7a7a98" stroke-width="0.75"/><circle cx="949.19" cy="535.57" r="3.1" fill="#f4c51c" stroke="#7a7a98" stroke-width="0.75"/><circle cx="965.75" cy="527.69" r="3.1" fill="#f4c51c" stroke="#7a7a98" stroke-width="0.75"/><circle cx="981.41" cy="535.27" r="3.1" fill="#f4c51c" stroke="#7a7a98" stroke-width="0.75"/>
<text x="1003.2" y="415.9" font-size="27.7" fill="#e07a32">Rapid compression</text>
<g transform="translate(939.6,508) rotate(-90)"><text x="0" y="0" font-size="27.5" fill="#6a9fd3">Quenching</text></g>
<text x="924.3" y="577.8" font-size="31" font-style="italic">Am-S</text>
<text x="1000.9" y="584.5" font-size="20" font-style="italic">R</text>
<text x="1331.3" y="428.8" font-size="31" font-style="italic">Am-S</text>
<text x="1408.2" y="434.9" font-size="20.5" font-style="italic">P</text>
<text x="878" y="72.4" font-size="44" font-weight="bold">b</text>
<g clip-path="url(#pinkclip)"><rect x="1255" y="213" width="161" height="481" fill="#d25264" fill-opacity="0.22" filter="url(#blurP)"/></g>
<path d="M1293.5,437 V236.4 H1285.8 L1300.3,222 L1314.8,236.4 H1307.2 V437 Z" fill="none" stroke="#ff2020" stroke-width="3.2" stroke-linejoin="miter"/>
<path d="M1293.5,442.5 H1416.5 V434.3 L1430.5,448.9 L1416.5,463.4 V455.3 H1293.5 Z" fill="none" stroke="#e8702a" stroke-width="3" stroke-linejoin="miter"/>
<path d="M1293.8,461 H1308 V688.5 H1316 L1300.8,703 L1285.8,688.5 H1293.8 Z" fill="none" stroke="#4a7cc0" stroke-width="3.2" stroke-linejoin="miter"/>
</svg></body></html>
